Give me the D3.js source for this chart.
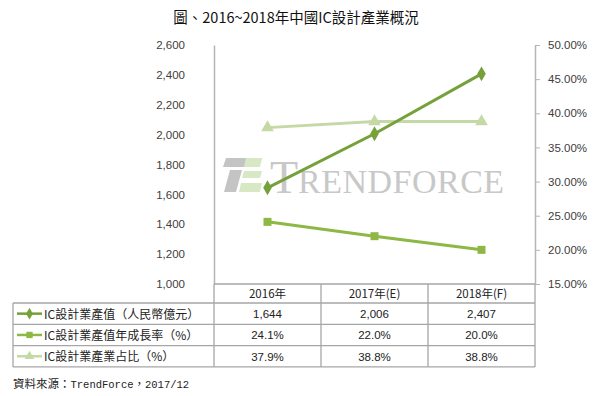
<!DOCTYPE html>
<html>
<head>
<meta charset="utf-8">
<script src="https://cdn.jsdelivr.net/npm/d3@7"></script>
<style>
  body { margin: 0; background: #fff; }
  text { font-family: "Liberation Sans", "Noto Sans CJK TC", sans-serif; }
</style>
</head>
<body>
<div id="container"></div>
<script>
var title = '圖、2016~2018年中國IC設計產業概況';
var categories = ['2016年', '2017年(E)', '2018年(F)'];
var outputValue = [1644, 2006, 2407];
var growthRate = [24.1, 22.0, 20.0];
var shareRate = [37.9, 38.8, 38.8];
var leftTicks = [1000, 1200, 1400, 1600, 1800, 2000, 2200, 2400, 2600];
var rightTicks = [15, 20, 25, 30, 35, 40, 45, 50];

var width = 600;
var height = 396;
var plotLeft = 214, plotRight = 535, plotTop = 45, plotBottom = 284;

var series = [
    {name: 'IC設計業產值（人民幣億元）', values: outputValue, axis: 'left', color: '#76a03a', shape: 'diamond', fmt: d3.format(',')},
    {name: 'IC設計業產值年成長率（%）', values: growthRate, axis: 'right', color: '#8db846', shape: 'square', fmt: function(v){ return v.toFixed(1) + '%'; }},
    {name: 'IC設計業產業占比（%）', values: shareRate, axis: 'right', color: '#c5d9a6', shape: 'triangle', fmt: function(v){ return v.toFixed(1) + '%'; }}
];

var svg = d3.select('#container').append('svg')
    .attr('width', width).attr('height', height);

var x = d3.scaleBand().domain(categories).range([plotLeft, plotRight]);
var yLeft = d3.scaleLinear().domain([1000, 2600]).range([plotBottom, plotTop]);
var yRight = d3.scaleLinear().domain([15, 50]).range([plotBottom, plotTop]);

// title
svg.append('text')
    .attr('x', 296).attr('y', 23)
    .attr('text-anchor', 'middle')
    .style('font-family', '"Noto Sans CJK TC", sans-serif')
    .style('font-size', '14.5px')
    .attr('fill', '#111')
    .text(title);

// watermark
var wm = svg.append('g');
wm.append('polygon').attr('points', '226,158 262,158 259,167 223,167').attr('fill', '#c4c4c4');
wm.append('polygon').attr('points', '230,170 242,170 236,192 224,192').attr('fill', '#c4c4c4');
wm.append('polygon').attr('points', '246,158 262,158 260,167 244,167').attr('fill', '#d6e8c4');
wm.append('polygon').attr('points', '244,171 262,171 260,178 242,178').attr('fill', '#d6e8c4');
wm.append('polygon').attr('points', '241,183 262,183 260,192 239,192').attr('fill', '#d6e8c4');
var wmText = wm.append('text')
    .attr('x', 270).attr('y', 193)
    .attr('fill', '#c8c8c8')
    .style('font-family', '"Liberation Serif", "DejaVu Serif", serif');
wmText.append('tspan').style('font-size', '46px').text('T');
wmText.append('tspan').style('font-size', '34px').attr('textLength', 206).text('RENDFORCE');

// axes
var axisLeft = svg.append('g')
    .attr('transform', 'translate(' + plotLeft + ',0)')
    .call(d3.axisLeft(yLeft).tickValues(leftTicks).tickSize(0).tickPadding(29).tickFormat(d3.format(',')));
axisLeft.select('.domain').attr('stroke', '#b5b5b5').attr('stroke-width', 1.5);

var axisRight = svg.append('g')
    .attr('transform', 'translate(' + plotRight + ',0)')
    .call(d3.axisRight(yRight).tickValues(rightTicks).tickSize(5).tickSizeOuter(0).tickPadding(8)
        .tickFormat(function(d){ return d.toFixed(2) + '%'; }));
axisRight.select('.domain').attr('stroke', '#b5b5b5').attr('stroke-width', 1.5);
axisRight.selectAll('.tick line').attr('stroke', '#b5b5b5');

svg.selectAll('.tick text')
    .attr('fill', '#404040')
    .style('font-family', '"Liberation Sans", sans-serif')
    .style('font-size', '11.5px');

// table
var rowH = 21.3;
var tableTop = 303;
var tableLeft = 13;
var gridColor = '#a6a6a6';
var table = svg.append('g');

table.append('line')
    .attr('x1', plotLeft).attr('x2', plotRight)
    .attr('y1', plotBottom).attr('y2', plotBottom)
    .attr('stroke', gridColor).attr('stroke-width', 1.3);

var colEdges = [plotLeft].concat(categories.map(function(c){ return x(c) + x.bandwidth(); }));
colEdges.forEach(function(cx){
    table.append('line')
        .attr('x1', cx).attr('x2', cx)
        .attr('y1', plotBottom).attr('y2', tableTop + rowH * series.length)
        .attr('stroke', gridColor).attr('stroke-width', 1.3);
});
table.append('line')
    .attr('x1', tableLeft).attr('x2', tableLeft)
    .attr('y1', tableTop).attr('y2', tableTop + rowH * series.length)
    .attr('stroke', gridColor).attr('stroke-width', 1.3);
for (var r = 0; r <= series.length; r++) {
    table.append('line')
        .attr('x1', tableLeft).attr('x2', plotRight)
        .attr('y1', tableTop + rowH * r).attr('y2', tableTop + rowH * r)
        .attr('stroke', gridColor).attr('stroke-width', 1.3);
}

table.selectAll('.head').data(categories).enter().append('text')
    .attr('x', function(d){ return x(d) + x.bandwidth() / 2; })
    .attr('y', plotBottom + 14)
    .attr('text-anchor', 'middle')
    .attr('fill', '#222')
    .style('font-family', '"Noto Sans CJK TC", sans-serif')
    .style('font-size', '11.5px')
    .text(function(d){ return d; });

function marker(g, shape, cx, cy, size, color) {
    var sym = shape === 'diamond' ? d3.symbolDiamond : shape === 'square' ? d3.symbolSquare : d3.symbolTriangle;
    g.append('path')
        .attr('d', d3.symbol().type(sym).size(size)())
        .attr('transform', 'translate(' + cx + ',' + cy + ')')
        .attr('fill', color);
}

series.forEach(function(s, i){
    var cy = tableTop + rowH * i + rowH / 2;
    table.append('line')
        .attr('x1', 17).attr('x2', 42)
        .attr('y1', cy).attr('y2', cy)
        .attr('stroke', s.color).attr('stroke-width', 2.5);
    marker(table, s.shape, 29.5, cy, 40, s.color);
    table.append('text')
        .attr('x', 44).attr('y', cy + 5)
        .attr('fill', '#222')
        .style('font-family', '"Noto Sans CJK TC", sans-serif')
        .style('font-size', '12px')
        .text(s.name);
    table.selectAll('.v' + i).data(s.values).enter().append('text')
        .attr('x', function(d, j){ return x(categories[j]) + x.bandwidth() / 2; })
        .attr('y', cy + 4.5)
        .attr('text-anchor', 'middle')
        .attr('fill', '#222')
        .style('font-family', '"Liberation Sans", sans-serif')
        .style('font-size', '11.5px')
        .text(function(d){ return s.fmt(d); });
});

// lines and markers
var drawOrder = [2, 1, 0];
drawOrder.forEach(function(i){
    var s = series[i];
    var yScale = s.axis === 'left' ? yLeft : yRight;
    var line = d3.line()
        .x(function(d, j){ return x(categories[j]) + x.bandwidth() / 2; })
        .y(function(d){ return yScale(d); });
    svg.append('path')
        .datum(s.values)
        .attr('d', line)
        .attr('fill', 'none')
        .attr('stroke', s.color)
        .attr('stroke-width', 3);
    s.values.forEach(function(v, j){
        marker(svg, s.shape, x(categories[j]) + x.bandwidth() / 2, yScale(v), s.shape === 'triangle' ? 70 : 64, s.color);
    });
});

// source
var src = svg.append('text')
    .attr('x', 13).attr('y', 388)
    .attr('fill', '#222')
    .style('font-size', '11.5px');
src.append('tspan').style('font-family', '"Noto Sans CJK TC", sans-serif').text('資料來源：');
src.append('tspan').style('font-family', '"Liberation Mono", monospace').style('font-size', '10.5px').text('TrendForce');
src.append('tspan').style('font-family', '"Noto Sans CJK TC", sans-serif').text('，');
src.append('tspan').style('font-family', '"Liberation Mono", monospace').style('font-size', '10.5px').text('2017/12');
</script>
</body>
</html>
